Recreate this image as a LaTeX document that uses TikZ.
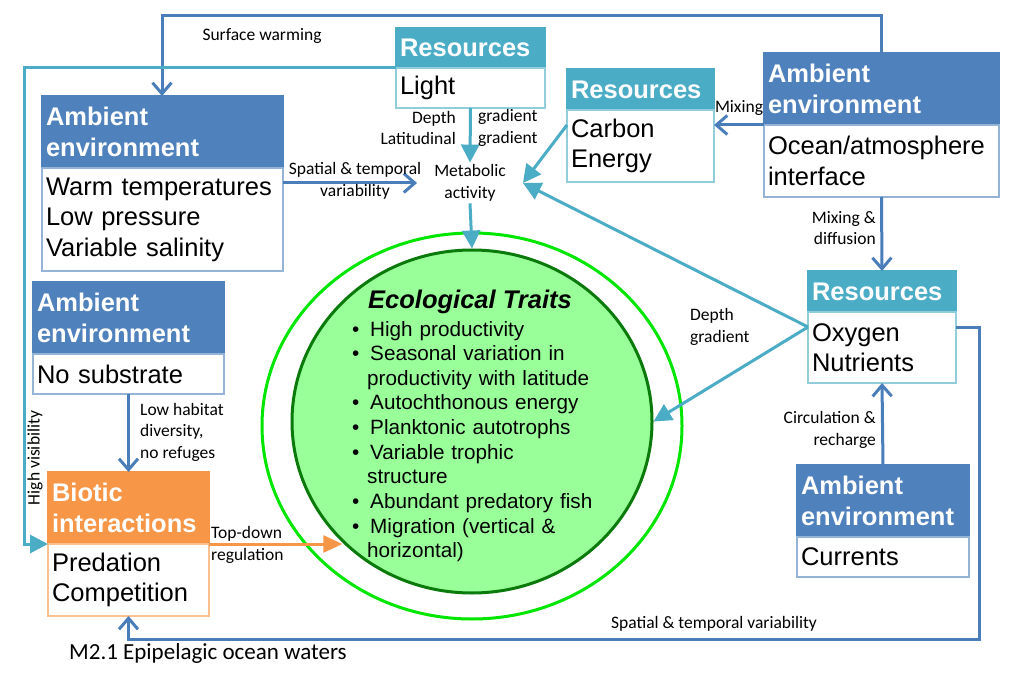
\documentclass[tikz,border=0pt]{standalone}
\usepackage{fontspec}
\setmainfont{Liberation Sans}
\newfontfamily\calibri{Carlito}
\usetikzlibrary{positioning,arrows.meta,shapes.geometric}

\definecolor{ambblue}{HTML}{4F81BD}
\definecolor{ambline}{HTML}{95B3D7}
\definecolor{resteal}{HTML}{4BACC6}
\definecolor{resline}{HTML}{92CDDC}
\definecolor{bioorange}{HTML}{F79646}
\definecolor{bioline}{HTML}{FAC090}
\definecolor{traitfill}{HTML}{99FF99}
\definecolor{traitline}{HTML}{0A7A0A}
\definecolor{ringgreen}{HTML}{00E600}
\definecolor{linkblue}{HTML}{4A7EBB}

\newcommand\boxfont{\fontsize{25.5}{30.5}\selectfont}
\newcommand\lblfont{\calibri\fontsize{17.5}{21.5}\selectfont}
\newcommand\traitfont{\fontsize{20.7}{24.6}\selectfont}
\newcommand\trait[1]{\makebox[18pt][l]{\textbullet}#1}
\newcommand\traitcont[1]{\hspace*{15pt}#1}

\tikzset{
  hd/.style={anchor=north west, inner xsep=4pt, inner ysep=0pt, outer sep=0pt, align=left, font=\boxfont\bfseries, text=white, line width=1.5pt},
  ambhd/.style={hd, fill=ambblue, draw=ambblue},
  reshd/.style={hd, fill=resteal, draw=resteal},
  biohd/.style={hd, fill=bioorange, draw=bioorange},
  bdy/.style={anchor=north west, inner xsep=4pt, inner ysep=0pt, outer sep=0pt, align=left, font=\boxfont, fill=white, line width=1.5pt},
  ambbody/.style={bdy, draw=ambline},
  resbody/.style={bdy, draw=resline},
  biobody/.style={bdy, draw=bioline},
  lbl/.style={font=\lblfont, inner sep=1pt, align=center},
  bluearr/.style={draw=linkblue, line width=3pt, -{Straight Barb[length=11pt,width=19pt]}},
  tealarr/.style={draw=resteal, line width=3pt, -{Triangle[length=18pt,width=18pt]}},
  orangearr/.style={draw=bioorange, line width=3pt, -{Triangle[length=19pt,width=17pt]}},
}

\begin{document}
\begin{tikzpicture}[x=1pt, y=-1pt]
    \useasboundingbox (0,0) rectangle (1011,700);
    \fill[white] (0,0) rectangle (1011,700);

    % ecological traits
    \node[ellipse, draw=ringgreen, line width=3pt, minimum width=420pt, minimum height=386pt, inner sep=0pt] (ring) at (472,426) {};
    \node[ellipse, draw=traitline, fill=traitfill, line width=3pt, minimum width=360pt, minimum height=343pt, inner sep=0pt] (traits) at (472,421.5) {};
    \node[font=\boxfont\bfseries\itshape] (traitshd) at (470,302) {Ecological Traits};
    \node[font=\traitfont, align=left, anchor=north west, inner sep=0pt, text width=300pt] (traitlist) at (352,321)
        {\trait{High productivity}\\ \trait{Seasonal variation in}\\ \traitcont{productivity with latitude}\\
         \trait{Autochthonous energy}\\ \trait{Planktonic autotrophs}\\ \trait{Variable trophic}\\
         \traitcont{structure}\\ \trait{Abundant predatory fish}\\ \trait{Migration (vertical \&}\\
         \traitcont{horizontal)}};

    % boxes
    \node[reshd, text width=141pt, minimum height=40pt] (lighthd) at (396,28) {Resources};
    \node[resbody, text width=141pt, minimum height=40pt, below=0pt of lighthd.south west, anchor=north west] (light) {Light};

    \node[reshd, text width=139pt, minimum height=41pt] (carbonhd) at (567,69) {Resources};
    \node[resbody, text width=139pt, minimum height=72pt, below=0pt of carbonhd.south west, anchor=north west] (carbon) {Carbon\\Energy};

    \node[ambhd, text width=227pt, minimum height=72pt] (oceanhd) at (764,53) {Ambient\\environment};
    \node[ambbody, text width=227pt, minimum height=72pt, below=0pt of oceanhd.south west, anchor=north west] (ocean) {Ocean/atmosphere\\interface};

    \node[ambhd, text width=233pt, minimum height=72pt] (warmhd) at (42,96) {Ambient\\environment};
    \node[ambbody, text width=233pt, minimum height=103pt, below=0pt of warmhd.south west, anchor=north west] (warm) {Warm temperatures\\Low pressure\\Variable salinity};

    \node[ambhd, text width=183pt, minimum height=72pt] (nosubhd) at (33,282) {Ambient\\environment};
    \node[ambbody, text width=183pt, minimum height=40pt, below=0pt of nosubhd.south west, anchor=north west] (nosub) {No substrate};

    \node[biohd, text width=153pt, minimum height=72pt] (biotichd) at (48,472) {Biotic\\interactions};
    \node[biobody, text width=153pt, minimum height=72pt, below=0pt of biotichd.south west, anchor=north west] (biotic) {Predation\\Competition};

    \node[reshd, text width=140pt, minimum height=41pt] (oxyhd) at (808,271) {Resources};
    \node[resbody, text width=140pt, minimum height=71pt, below=0pt of oxyhd.south west, anchor=north west] (oxy) {Oxygen\\Nutrients};

    \node[ambhd, text width=164pt, minimum height=72pt] (curhd) at (797,465) {Ambient\\environment};
    \node[ambbody, text width=164pt, minimum height=40pt, below=0pt of curhd.south west, anchor=north west] (cur) {Currents};

    % surface warming loop
    \coordinate (topleft) at (162,16);
    \draw[bluearr] (oceanhd.north) |- (topleft) -- (topleft |- warmhd.north);
    \node[lbl] (warmlbl) at (262,36) {Surface warming};

    % high visibility
    \coordinate (visx) at (24,68);
    \draw[tealarr] (lighthd.south west) -- (visx) |- (biotichd.south west);
    \node[lbl, rotate=90] (vislbl) at (35,458) {High visibility};

    % metabolic activity
    \node[lbl, inner xsep=17pt, inner ysep=2pt] (metab) at (470,183) {Metabolic\\activity};
    \draw[bluearr] (metab.west -| warm.east) -- (metab.west);
    \node[lbl] (spatlbl) at (355,181) {Spatial \& temporal\\variability};
    \draw[tealarr] (light.south) -- (metab.north);
    \node[lbl, anchor=east, align=right] (depthlbl) at (457,128) {Depth\\Latitudinal};
    \node[lbl, anchor=west, align=left] (gradlbl) at (477,128) {gradient\\gradient};
    \draw[tealarr] (metab.south) -- (traits.north);
    \draw[tealarr] ([yshift=-15pt]carbon.north west) -- (metab.east);

    % mixing
    \draw[bluearr] (oceanhd.south west) -- (oceanhd.south west -| carbon.east);
    \node[lbl] (mixlbl) at (739,108) {Mixing};
    \draw[bluearr] (ocean.south) -- (oxyhd.north);
    \node[lbl, anchor=east, align=right] (difflbl) at (877,228) {Mixing \&\\diffusion};

    % oxygen and nutrients
    \draw[tealarr] ([yshift=-15pt]oxy.north west) -- (metab.east);
    \draw[tealarr] ([yshift=-15pt]oxy.north west) -- (traits.east);
    \node[lbl, anchor=west, align=left] (oxylbl) at (689,327) {Depth\\gradient};
    \coordinate (loopbr) at (979,639);
    \draw[bluearr] ([yshift=-15pt]oxy.north east) -| (loopbr) -| (biotic.south);
    \node[lbl] (looplbl) at (714,624) {Spatial \& temporal variability};
    \draw[bluearr] (curhd.north) -- (oxy.south);
    \node[lbl, anchor=east, align=right] (circlbl) at (877,430) {Circulation \&\\recharge};

    % biotic interactions
    \draw[bluearr] (nosub.south) -- (biotichd.north);
    \node[lbl, anchor=west, align=left] (habitlbl) at (139,432) {Low habitat\\diversity,\\no refuges};
    \draw[orangearr] (biotichd.south east) -- (biotichd.south east -| traits.223);
    \node[lbl, anchor=west, align=left] (toplbl) at (210,545) {Top-down\\regulation};

    \node[font=\calibri\fontsize{23}{27}\selectfont, anchor=west, inner sep=0pt] (caption) at (69,653) {M2.1 Epipelagic ocean waters};
\end{tikzpicture}
\end{document}
